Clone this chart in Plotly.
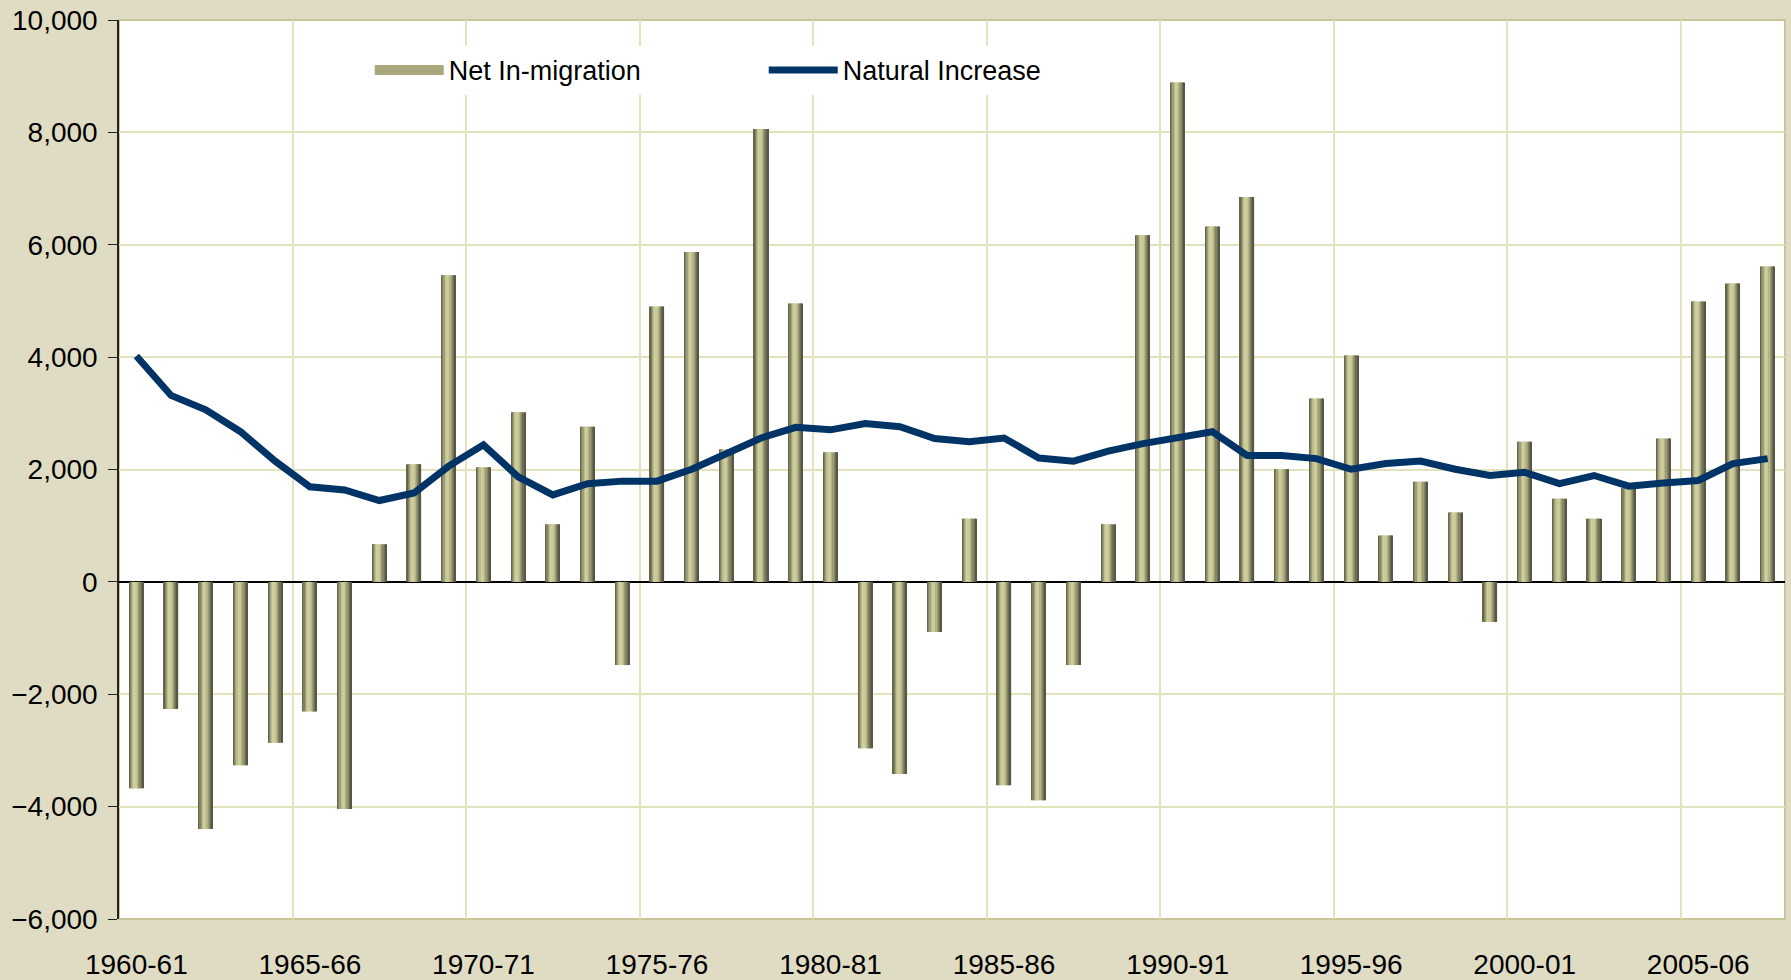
import plotly.graph_objects as go

years = [f"{y}-{str(y + 1)[-2:]}" for y in range(1960, 2008)]

net_in_migration = [
    -3675, -2261, -4399, -3263, -2862, -2305, -4042, 668, 2094, 5457,
    2038, 3018, 1024, 2762, -1481, 4900, 5869, 2361, 8062, 4955,
    2305, -2962, -3419, -891, 1125, -3619, -3886, -1481, 1024, 6169,
    8886, 6325, 6849, 2004, 3263, 4031, 824, 1782, 1236, -713,
    2494, 1481, 1125, 1670, 2550, 4989, 5312, 5612,
]

natural_increase = [
    4020, 3318, 3062, 2673, 2149, 1693, 1637, 1448, 1581, 2060,
    2439, 1871, 1548, 1748, 1793, 1793, 2004, 2272, 2561, 2751,
    2706, 2817, 2762, 2550, 2494, 2561, 2205, 2149, 2327, 2461,
    2561, 2673, 2249, 2249, 2194, 2004, 2105, 2149, 2004, 1893,
    1949, 1748, 1893, 1704, 1759, 1804, 2105, 2194,
]

y_ticks = list(range(-6000, 10001, 2000))
label_step = 5

xpos = list(range(len(years)))

# gradient for the bars, simulated with thin overlaid strips
stops = [(0.0, (88, 88, 66)), (0.35, (208, 208, 158)), (0.55, (200, 200, 150)), (1.0, (76, 76, 58))]


def grad(t):
    for (t0, c0), (t1, c1) in zip(stops[:-1], stops[1:]):
        if t0 <= t <= t1:
            f = (t - t0) / (t1 - t0)
            return "rgb(%d,%d,%d)" % tuple(round(a + (b - a) * f) for a, b in zip(c0, c1))
    return "rgb(%d,%d,%d)" % stops[-1][1]


bar_w = 0.41
n_strips = 12
step = bar_w / n_strips

fig = go.Figure()
for i in range(n_strips):
    t = (i + 0.5) / n_strips
    fig.add_trace(go.Bar(
        x=xpos, y=net_in_migration,
        width=step * 1.25 if i < n_strips - 1 else step,
        offset=-bar_w / 2 + i * step,
        marker=dict(color=grad(t), line=dict(width=0)),
        showlegend=False, hoverinfo="skip",
    ))

# legend entry for the bars (thick swatch)
fig.add_trace(go.Scatter(
    x=[None], y=[None], name="Net In-migration", mode="lines",
    line=dict(color="rgb(168,168,124)", width=17),
    showlegend=True,
))

fig.add_trace(go.Scatter(
    x=xpos, y=natural_increase, name="Natural Increase",
    mode="lines", line=dict(color="#003366", width=7),
))

font_family = "Liberation Sans, Arial, sans-serif"

fig.update_layout(
    width=1791, height=980,
    paper_bgcolor="#e0dcc4",
    plot_bgcolor="white",
    barmode="overlay",
    margin=dict(l=119, r=6, t=20, b=61),
    font=dict(family=font_family, size=28, color="black"),
    legend=dict(
        orientation="h", x=0.1505, y=0.944, xanchor="left", yanchor="middle",
        bgcolor="white", font=dict(size=27), entrywidth=310, entrywidthmode="pixels",
        itemwidth=69, traceorder="normal",
    ),
    xaxis=dict(
        range=[-0.5, len(years) - 0.5],
        tickmode="array",
        tickvals=xpos[::label_step],
        ticktext=years[::label_step],
        showgrid=False,
        ticks="",
        ticklabelstandoff=26,
        showline=False,
        zeroline=False,
        automargin=False,
        minor=dict(tick0=-0.5, dtick=label_step, showgrid=True,
                   gridcolor="#e2e2bc", gridwidth=1.5, ticks=""),
    ),
    yaxis=dict(
        range=[-6000, 10000],
        tickmode="array",
        tickvals=y_ticks,
        tickformat=",",
        showgrid=True, gridcolor="#e2e2bc", gridwidth=1.5,
        zeroline=True, zerolinecolor="black", zerolinewidth=1.5,
        showline=True, linecolor="#222222", linewidth=1.5,
        ticks="outside", ticklen=9, tickcolor="#222222",
        ticklabelstandoff=5,
        automargin=False,
    ),
    shapes=[dict(type="rect", xref="paper", yref="paper", x0=0, x1=1, y0=0, y1=1,
                 line=dict(color="#c9c59b", width=2), layer="below")],
)

fig.write_html(
    "out.html",
    config={"displayModeBar": False},
    post_script="document.body.style.margin='0';document.body.style.background='#e0dcc4';",
)
